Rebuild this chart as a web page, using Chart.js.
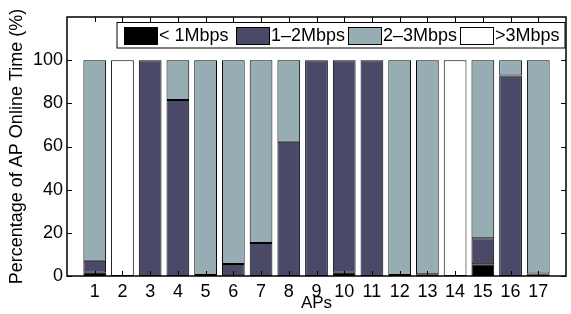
<!DOCTYPE html>
<html lang="en">
<head>
<meta charset="UTF-8" />
<title>AP online time</title>
<script src="https://cdn.jsdelivr.net/npm/chart.js"></script>
<style>
  html, body { margin: 0; padding: 0; background: #fff; }
</style>
</head>
<body>
<canvas id="myChart" width="571" height="314"></canvas>
<script>
const aps = ["1", "2", "3", "4", "5", "6", "7", "8", "9", "10", "11", "12", "13", "14", "15", "16", "17"];
const below1 = [1.5, 0, 0, 0, 0, 0.3, 0, 0, 0, 1.5, 0, 0, 0, 0, 5.4, 0, 0];
const from1to2 = [5.6, 0, 100, 81.5, 0.5, 5.3, 15.3, 62.2, 100, 98.5, 100, 0.5, 0.8, 0, 12.1, 92.9, 1.2];
const from2to3 = [92.9, 0, 0, 18.5, 99.5, 94.4, 84.7, 37.8, 0, 0, 0, 99.5, 99.2, 0, 82.5, 7.1, 98.8];
const above3 = [0, 100, 0, 0, 0, 0, 0, 0, 0, 0, 0, 0, 0, 100, 0, 0, 0];
const yTicks = [0, 20, 40, 60, 80, 100];

const FONT = "'Liberation Sans', Arial, sans-serif";

// empty slot on each side so the bars sit one step in from the frame
const pad = (arr) => [null, ...arr, null];
const labels = ["", ...aps, ""];

function series(label, values, color) {
  return {
    label: label,
    data: pad(values),
    backgroundColor: color,
    borderColor: "#000",
    borderWidth: 1,
    borderSkipped: false,
    barPercentage: 0.82,
    categoryPercentage: 1,
  };
}

// frame + inward ticks, matlab style
const framePlugin = {
  id: "frame",
  afterDraw(chart) {
    const { ctx, chartArea: a, scales } = chart;
    ctx.save();
    ctx.strokeStyle = "#000";
    ctx.lineWidth = 1;
    ctx.beginPath();
    yTicks.forEach((v) => {
      const y = Math.round(scales.y.getPixelForValue(v)) + 0.5;
      ctx.moveTo(a.left, y); ctx.lineTo(a.left + 5, y);
      ctx.moveTo(a.right, y); ctx.lineTo(a.right - 5, y);
    });
    aps.forEach((_, i) => {
      const x = Math.round(scales.x.getPixelForValue(i + 1)) + 0.5;
      ctx.moveTo(x, a.top); ctx.lineTo(x, a.top + 5);
      ctx.moveTo(x, a.bottom); ctx.lineTo(x, a.bottom - 5);
    });
    ctx.stroke();
    ctx.lineWidth = 1.5;
    ctx.strokeRect(a.left, a.top, a.right - a.left, a.bottom - a.top);
    ctx.restore();
  },
};

// legend box inside the plot, across the top
const legendPlugin = {
  id: "boxLegend",
  afterDraw(chart) {
    const { ctx } = chart;
    const left = 117, top = 22.5, right = 565, bottom = 48;
    ctx.save();
    ctx.fillStyle = "#fff";
    ctx.fillRect(left, top, right - left, bottom - top);
    ctx.strokeStyle = "#000";
    ctx.lineWidth = 1;
    ctx.strokeRect(left, top, right - left, bottom - top);
    ctx.font = "18px " + FONT;
    ctx.textBaseline = "middle";
    chart.data.datasets.forEach((ds, i) => {
      const x = 124 + i * 112;
      ctx.fillStyle = ds.backgroundColor;
      ctx.fillRect(x, 27, 33, 17);
      ctx.strokeRect(x + 0.5, 27.5, 33, 17);
      ctx.fillStyle = "#000";
      ctx.fillText(ds.label, x + 35, 36);
    });
    ctx.restore();
  },
};

new Chart(document.getElementById("myChart"), {
  type: "bar",
  data: {
    labels: labels,
    datasets: [
      series("< 1Mbps", below1, "#000000"),
      series("1\u20132Mbps", from1to2, "#4a4a68"),
      series("2\u20133Mbps", from2to3, "#95adb3"),
      series(">3Mbps", above3, "#ffffff"),
    ],
  },
  options: {
    responsive: false,
    animation: false,
    layout: { padding: { top: 17, right: 2, left: 0, bottom: 0 } },
    plugins: { legend: { display: false }, tooltip: { enabled: false } },
    scales: {
      x: {
        stacked: true,
        offset: false,
        grid: { display: false, drawTicks: false },
        border: { display: false },
        ticks: {
          autoSkip: false,
          maxRotation: 0,
          padding: 5,
          color: "#000",
          font: { family: FONT, size: 18 },
        },
        title: {
          display: true,
          text: "APs",
          color: "#000",
          padding: { top: 0, bottom: 0 },
          font: { family: FONT, size: 17 },
        },
        afterFit(scale) { scale.height = 38; },
      },
      y: {
        stacked: true,
        min: 0,
        max: 120,
        grid: { display: false, drawTicks: false },
        border: { display: false },
        ticks: {
          stepSize: 20,
          padding: 4,
          color: "#000",
          font: { family: FONT, size: 18 },
          callback: (v) => (yTicks.includes(v) ? v : ""),
        },
        title: {
          display: true,
          text: "Percentage of AP Online Time (%)",
          color: "#000",
          padding: { top: 6, bottom: 0 },
          font: { family: FONT, size: 18 },
        },
        afterFit(scale) { scale.width = 67; },
      },
    },
  },
  plugins: [framePlugin, legendPlugin],
});
</script>
</body>
</html>
